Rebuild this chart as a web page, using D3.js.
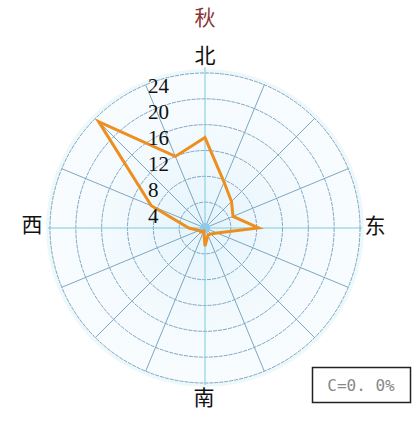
<!DOCTYPE html>
<html><head><meta charset="utf-8">
<script src="https://cdn.jsdelivr.net/npm/d3@7/dist/d3.min.js"></script>
<style>html,body{margin:0;padding:0;background:#fff;overflow:hidden}</style>
</head><body><svg id="c" width="418" height="421"></svg>
<script>
const title = "秋";
const directions = ["N","NNE","NE","ENE","E","ESE","SE","SSE","S","SSW","SW","WSW","W","WNW","NW","NNW"];
const values = [14, 7.7, 5.8, 4.7, 8.3, 2.0, 1.3, 1.2, 2.8, 0.5, 0.9, 1.0, 2.5, 9.0, 23.3, 12];
const ringTicks = [4, 8, 12, 16, 20, 24];
const compassLabels = [{t:"北",a:0},{t:"东",a:90},{t:"南",a:180},{t:"西",a:270}];
const calmText = "C=0. 0%";

const svg = d3.select("#c");
const cx = 205, cy = 228;
const r = d3.scaleLinear().domain([0, 24]).range([0, 155]);
const ang = d3.scaleLinear().domain([0, directions.length]).range([0, 2*Math.PI]);

const defs = svg.append("defs");
const rg = defs.append("radialGradient").attr("id","bg");
rg.append("stop").attr("offset","0%").attr("stop-color","#e4f4fc");
rg.append("stop").attr("offset","60%").attr("stop-color","#f3fafe");
rg.append("stop").attr("offset","100%").attr("stop-color","#f8fcff");

const g = svg.append("g").attr("transform",`translate(${cx},${cy})`);
// halo
g.append("circle").attr("r", r(24)+2).attr("fill","none").attr("stroke","#edf8fb").attr("stroke-width",4);
g.append("circle").attr("r", r(24)).attr("fill","url(#bg)");

// rings
g.selectAll("circle.ring").data(ringTicks).join("circle").attr("class","ring")
  .attr("r", d=>r(d)).attr("fill","none").attr("stroke","#7fa6c0").attr("stroke-width",1)
  .attr("stroke-dasharray","4,1");

// spokes
g.selectAll("line.spoke").data(directions.map((d,i)=>i).filter(i=>i%4!==0)).join("line")
  .attr("x1",0).attr("y1",0)
  .attr("x2", i=>r(24)*Math.sin(ang(i))).attr("y2", i=>-r(24)*Math.cos(ang(i)))
  .attr("stroke","#7fa6c0").attr("stroke-width",1);
// main axes
const ext = {0:[0,-161],4:[157,0],8:[0,157],12:[-157,0]};
g.selectAll("line.axis").data([0,4,8,12]).join("line")
  .attr("x1",0).attr("y1",0)
  .attr("x2", i=>ext[i][0]).attr("y2", i=>ext[i][1])
  .attr("stroke","#7ccbe0").attr("stroke-width",1);

// center dot
g.append("circle").attr("r",5).attr("fill","#8ccbea");

// data polygon
const line = d3.lineRadial().angle((d,i)=>ang(i)).radius(d=>r(d)).curve(d3.curveLinearClosed);
g.append("path").datum(values).attr("d", line).attr("fill","none")
  .attr("stroke","#ec8f1e").attr("stroke-width",3).attr("stroke-linejoin","miter");

// ring labels
g.selectAll("text.tick").data(ringTicks).join("text")
  .attr("x", -57).attr("y", d=>-r(d-2)).attr("dy","0.36em")
  .attr("font-family","Liberation Serif, serif").attr("font-size",21).attr("fill","#111")
  .text(d=>d);

// compass labels
const lp = {0:[0,-173],90:[170,-3],180:[-1,169],270:[-173,-4]};
g.selectAll("text.cmp").data(compassLabels).join("text")
  .attr("x", d=>lp[d.a][0]).attr("y", d=>lp[d.a][1])
  .attr("text-anchor","middle").attr("dy","0.36em")
  .attr("font-family","Noto Sans CJK SC").attr("font-size",21).attr("fill","#111")
  .text(d=>d.t);

svg.append("text").attr("x",cx).attr("y",17).attr("text-anchor","middle").attr("dy","0.36em")
  .attr("font-family","Noto Sans CJK SC").attr("font-size",21).attr("fill","#8a3434").text(title);

// calm box
svg.append("rect").attr("x",312.5).attr("y",367.5).attr("width",98).attr("height",35)
  .attr("fill","#fff").attr("stroke","#222").attr("stroke-width",1.5);
svg.append("text").attr("x",361).attr("y",385).attr("text-anchor","middle").attr("dy","0.36em")
  .attr("font-family","DejaVu Sans Mono, monospace").attr("font-size",16).attr("fill","#888").text(calmText);
</script></body></html>
